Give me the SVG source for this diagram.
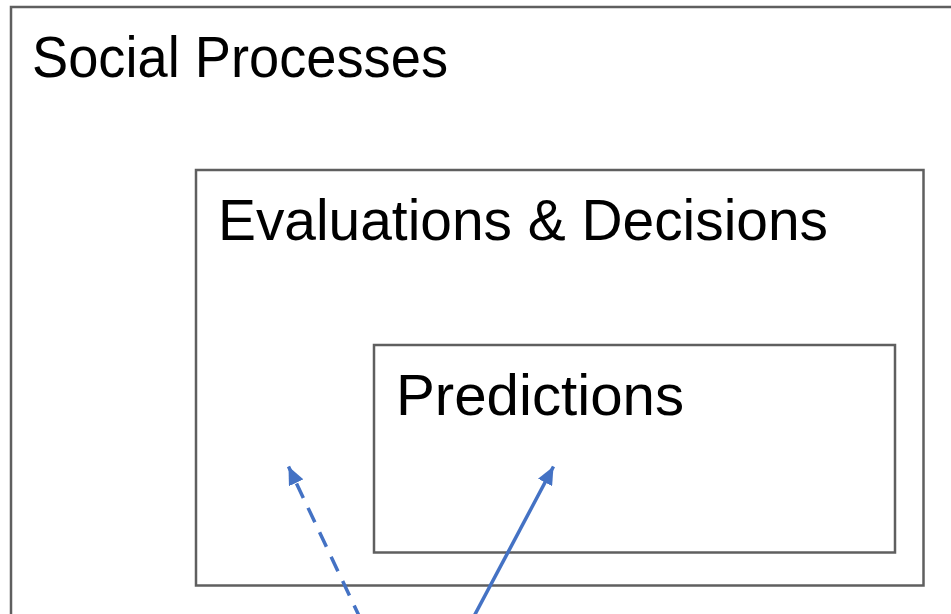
<svg xmlns="http://www.w3.org/2000/svg" width="951" height="614" viewBox="0 0 951 614">
  <style>
    .frame { fill: #ffffff; stroke: #5f5f5f; stroke-width: 2.5; }
    .label { font-family: "Liberation Sans", Arial, sans-serif; font-size: 57px; fill: #000000; }
    .link { fill: none; stroke: #4472c4; stroke-width: 3.5; }
    .dashed { stroke-dasharray: 16 11; }
  </style>
  <defs>
    <marker id="head" markerUnits="userSpaceOnUse" markerWidth="18" markerHeight="16" refX="18" refY="8" orient="auto">
      <path d="M0,0 L18,8 L0,16 Z" fill="#4472c4"/>
    </marker>
  </defs>

  <rect width="951" height="614" fill="#ffffff"/>

  <g id="social-processes">
    <rect class="frame" x="11" y="7" width="960" height="640"/>
    <text class="label" x="32" y="77" textLength="416" lengthAdjust="spacingAndGlyphs">Social Processes</text>
  </g>

  <g id="evaluations-decisions">
    <rect class="frame" x="196" y="170" width="727.5" height="415.5"/>
    <text class="label" x="218" y="239.5" textLength="610" lengthAdjust="spacingAndGlyphs">Evaluations &amp; Decisions</text>
  </g>

  <g id="predictions">
    <rect class="frame" x="374" y="345" width="521" height="207.5"/>
    <text class="label" x="396" y="414.5" textLength="288" lengthAdjust="spacingAndGlyphs">Predictions</text>
  </g>

  <g id="connectors">
    <path class="link dashed" d="M361,620 L288.5,466.5" marker-end="url(#head)"/>
    <path class="link" d="M472,620 L553.5,466.5" marker-end="url(#head)"/>
  </g>
</svg>
